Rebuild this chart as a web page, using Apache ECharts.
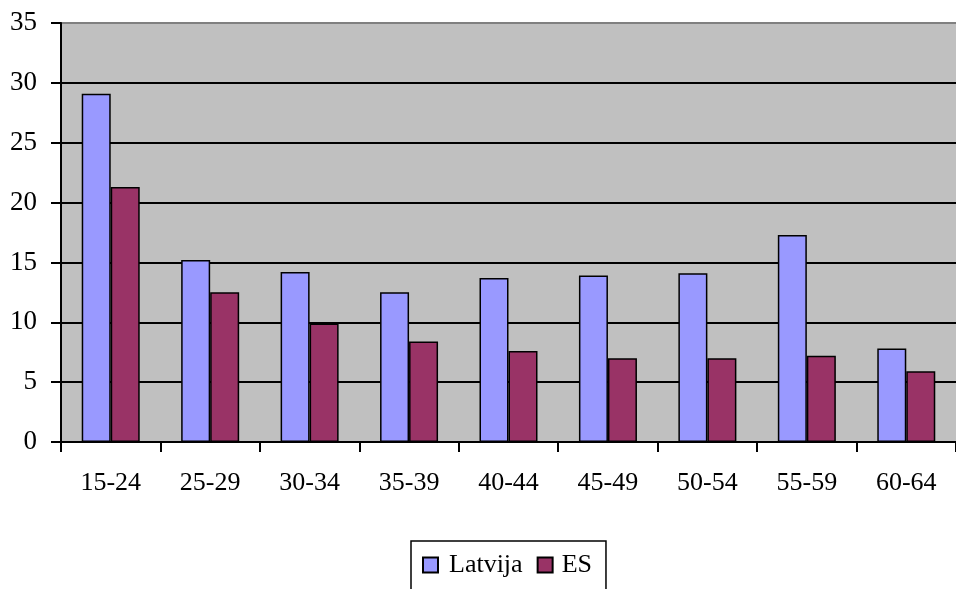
<!DOCTYPE html>
<html>
<head>
<meta charset="utf-8">
<script src="https://cdn.jsdelivr.net/npm/echarts@6/dist/echarts.min.js"></script>
<style>
html,body{margin:0;padding:0;background:#fff;}
#chart{width:956px;height:589px;}
</style>
</head>
<body>
<div id="chart"></div>
<script>
var categories = ['15-24','25-29','30-34','35-39','40-44','45-49','50-54','55-59','60-64'];
var latvija = [29.1, 15.2, 14.2, 12.5, 13.7, 13.9, 14.1, 17.3, 7.8];
var es = [21.3, 12.5, 9.9, 8.4, 7.6, 7.0, 7.0, 7.2, 5.9];
var seriesNames = ['Latvija', 'ES'];

var chart = echarts.init(document.getElementById('chart'));
var font = 'Liberation Serif';
chart.setOption({
  animation: false,
  backgroundColor: '#ffffff',
  textStyle: {fontFamily: font},
  grid: {left: 61, top: 23, bottom: 147, right: -12, show: true, backgroundColor: '#c0c0c0', borderWidth: 0},
  legend: {
    data: [
      {name: seriesNames[0], textStyle: {padding: [0, 0, 0, 6]}},
      {name: seriesNames[1], textStyle: {padding: [0, 0, 0, 4]}}
    ],
    left: 411, top: 541,
    orient: 'horizontal',
    icon: 'rect',
    itemWidth: 15, itemHeight: 15, itemGap: 14,
    borderColor: '#000', borderWidth: 1.5,
    padding: [11, 14, 16, 11],
    textStyle: {fontFamily: font, fontSize: 26, color: '#000'}
  },
  xAxis: {
    type: 'category',
    data: categories,
    axisLine: {lineStyle: {color: '#000', width: 2}},
    axisTick: {show: true, length: 10, lineStyle: {color: '#000', width: 2}},
    axisLabel: {color: '#000', fontFamily: font, fontSize: 26, margin: 28},
    splitLine: {show: false}
  },
  yAxis: {
    type: 'value',
    min: 0, max: 35, interval: 5,
    axisLine: {show: true, lineStyle: {color: '#000', width: 2}},
    axisTick: {show: true, length: 10, lineStyle: {color: '#000', width: 2}},
    axisLabel: {color: '#000', fontFamily: font, fontSize: 27, margin: 24},
    splitLine: {show: true, lineStyle: {color: ['#000','#000','#000','#000','#000','#000','#000','#808080'], width: 2}}
  },
  series: [
    {name: seriesNames[0], type: 'bar', data: latvija, barWidth: 29, barGap: '0%',
     itemStyle: {color: '#9999ff', borderColor: '#000', borderWidth: 1.5}},
    {name: seriesNames[1], type: 'bar', data: es, barWidth: 29, barGap: '0%',
     itemStyle: {color: '#993366', borderColor: '#000', borderWidth: 1.5}}
  ]
});
</script>
</body>
</html>
